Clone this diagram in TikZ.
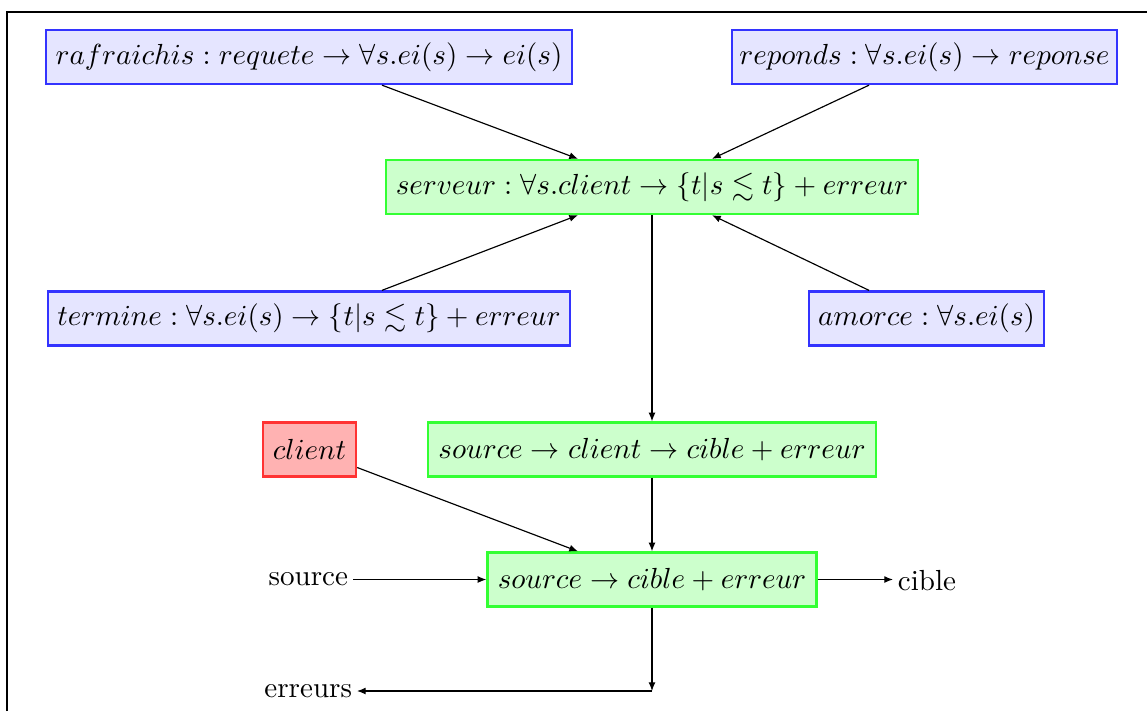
\documentclass[tikz,border=0pt]{standalone}
\usepackage{amssymb}
\usetikzlibrary{calc,arrows.meta}
\def\pxu{0.344pt}
\tikzset{
  x=\pxu, y=-\pxu,
  boxbase/.style={thick, inner sep=0pt, minimum height={54*\pxu}},
  bluebox/.style={boxbase, draw=blue!80, fill=blue!10},
  greenbox/.style={boxbase, draw=green!80, fill=green!20},
  redbox/.style={boxbase, draw=red!80, fill=red!30},
  plain/.style={inner sep=1.5pt},
  arr/.style={-{Latex[length=3pt,width=2.4pt]}, line width=0.4pt},
}
\begin{document}
\begin{tikzpicture}
\useasboundingbox (0,0) rectangle (1147,711);
\draw[line width=0.4pt] (7,711) -- (7,12) -- (1147,12);

\node[bluebox, minimum width={526*\pxu}] (raf) at (309,57) {$rafraichis : requete \to \forall s.ei(s) \to ei(s)$};
\node[bluebox, minimum width={385*\pxu}] (rep) at (924.5,57) {$reponds : \forall s.ei(s) \to reponse$};
\node[greenbox, minimum width={532*\pxu}] (serv) at (652,187) {$serveur : \forall s.client \to \{t|s \lesssim t\} + erreur$};
\node[bluebox, minimum width={522*\pxu}] (term) at (309,318.5) {$termine : \forall s.ei(s) \to \{t|s \lesssim t\} + erreur$};
\node[bluebox, minimum width={235*\pxu}] (amor) at (926.5,318.5) {$amorce : \forall s.ei(s)$};
\node[redbox, minimum width={93*\pxu}] (cli) at (309.5,449.5) {$client$};
\node[greenbox, minimum width={448*\pxu}] (scc) at (652,449.5) {$source \to client \to cible + erreur$};
\node[greenbox, minimum width={329*\pxu}] (sc) at (652,579.5) {$source \to cible + erreur$};
\node[plain, anchor=east] (srctxt) at (353,579.5) {source};
\node[plain, anchor=west] (cibtxt) at (893,581) {cible};
\node[plain, anchor=east] (errtxt) at (357,691) {erreurs};
\coordinate (corner) at (652,691);

\draw[arr] ($(raf.south)+(73,0)$) -- ($(serv.north)+(-74,0)$);
\draw[arr] ($(rep.south)+(-55.5,0)$) -- ($(serv.north)+(60,0)$);
\draw[arr] ($(term.north)+(73,0)$) -- ($(serv.south)+(-74,0)$);
\draw[arr] ($(amor.north)+(-57.5,0)$) -- ($(serv.south)+(60,0)$);
\draw[arr] (serv.south) -- (scc.north);
\draw[arr] (scc.south) -- (sc.north);
\draw[arr] ($(cli.east)+(0,18)$) -- ($(sc.north)+(-74,0)$);
\draw[arr] (srctxt.east) -- (srctxt.east -| sc.west);
\draw[arr] (sc.east) -- (sc.east -| cibtxt.west);
\draw[arr] (sc.south) -- (corner);
\draw[arr] (corner) -- (errtxt.east);
\end{tikzpicture}
\end{document}
